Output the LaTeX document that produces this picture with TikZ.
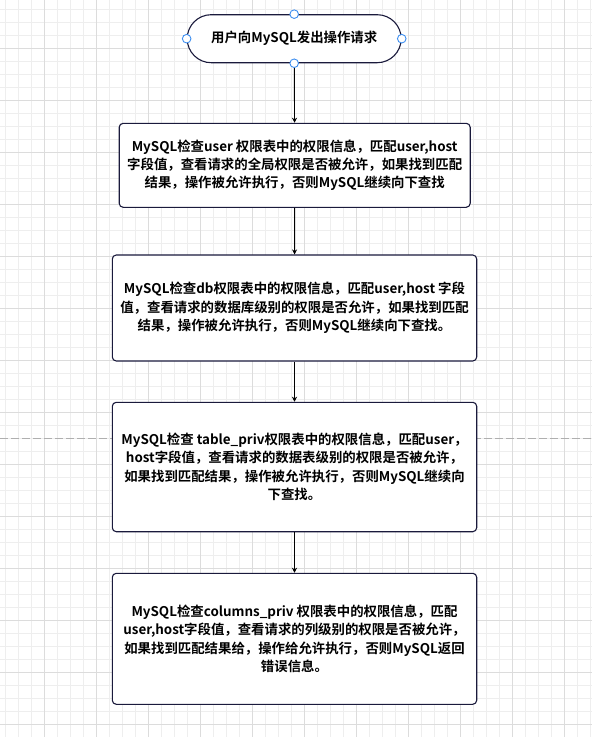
\documentclass[tikz,border=0pt]{standalone}
\usepackage{fontspec}
\setmainfont{Noto Sans CJK SC}[BoldFont={Noto Sans CJK SC Bold}]
\usepackage{tikz}
\usetikzlibrary{positioning,arrows.meta}
\definecolor{flowline}{HTML}{1A1A3C}
\definecolor{flowhandle}{HTML}{3D8EF0}
\definecolor{gridmin}{HTML}{EEEEEE}
\definecolor{gridmaj}{HTML}{DCDCDC}
\definecolor{pagebreak}{HTML}{AFAFAF}

\begin{document}
\begin{tikzpicture}[
  x=1pt, y=-1pt,
  font=\bfseries\fontsize{13.4}{18.4}\selectfont,
  term/.style={draw=flowline, line width=1.1pt, fill=white, rounded corners=24pt,
               minimum width=214pt, minimum height=48pt, inner sep=0pt, align=center},
  stepbox/.style={draw=flowline, line width=1.1pt, fill=white, rounded corners=4pt,
                  minimum width=364.4pt, inner sep=0pt, align=center},
  arr/.style={-{Stealth[length=5pt,width=5pt]}, line width=0.9pt, draw=black},
  handle/.style={circle, draw=flowhandle, fill=white, line width=0.9pt,
                 minimum size=8.6pt, inner sep=0pt},
  gridminor/.style={draw=gridmin, line width=0.9pt},
  gridmajor/.style={draw=gridmaj, line width=0.9pt},
]
\fill[white] (0,0) rectangle (592,737);
\useasboundingbox (0,0) rectangle (592,737);
\foreach \i in {0,...,45} {
  \draw[gridminor] (5.3+13*\i,0) -- (5.3+13*\i,737);
}
\foreach \i in {0,...,56} {
  \draw[gridminor] (0,9.6+13*\i) -- (592,9.6+13*\i);
}
\foreach \i in {0,...,10} {
  \draw[gridmajor] (44.3+52*\i,0) -- (44.3+52*\i,737);
}
\foreach \i in {0,...,13} {
  \draw[gridmajor] (0,48.6+52*\i) -- (592,48.6+52*\i);
}
\draw[pagebreak, line width=1pt, dash pattern=on 8pt off 3pt] (0,438.3) -- (592,438.3);

\node[term] (start) at (294.2,38.7) {用户向MySQL发出操作请求};
\node[stepbox, minimum width=351pt, minimum height=84pt] (chkuser) at (294.7,165.3)
  {MySQL检查user 权限表中的权限信息，匹配user,host\\
   字段值，查看请求的全局权限是否被允许，如果找到匹配\\
   结果，操作被允许执行，否则MySQL继续向下查找};
\node[stepbox, minimum height=106pt] (chkdb) at (294.5,308)
  {MySQL检查db权限表中的权限信息，匹配user,host 字段\\
   值，查看请求的数据库级别的权限是否允许，如果找到匹配\\
   结果，操作被允许执行，否则MySQL继续向下查找。};
\node[stepbox, minimum height=129.4pt] (chktable) at (294.5,467)
  {MySQL检查 table\_priv权限表中的权限信息，匹配user，\\
   host字段值，查看请求的数据表级别的权限是否被允许，\\
   如果找到匹配结果，操作被允许执行，否则MySQL继续向\\
   下查找。};
\node[stepbox, minimum height=131pt] (chkcol) at (294.5,638.8)
  {MySQL检查columns\_priv 权限表中的权限信息，匹配\\
   user,host字段值，查看请求的列级别的权限是否被允许，\\
   如果找到匹配结果给，操作给允许执行，否则MySQL返回\\
   错误信息。};

\draw[arr] (start) -- (chkuser);
\draw[arr] (chkuser) -- (chkdb);
\draw[arr] (chkdb) -- (chktable);
\draw[arr] (chktable) -- (chkcol);

\node[handle] (hn) at (start.north) {};
\node[handle] (hs) at (start.south) {};
\node[handle] (hw) at (start.west) {};
\node[handle] (he) at (start.east) {};
\end{tikzpicture}
\end{document}
